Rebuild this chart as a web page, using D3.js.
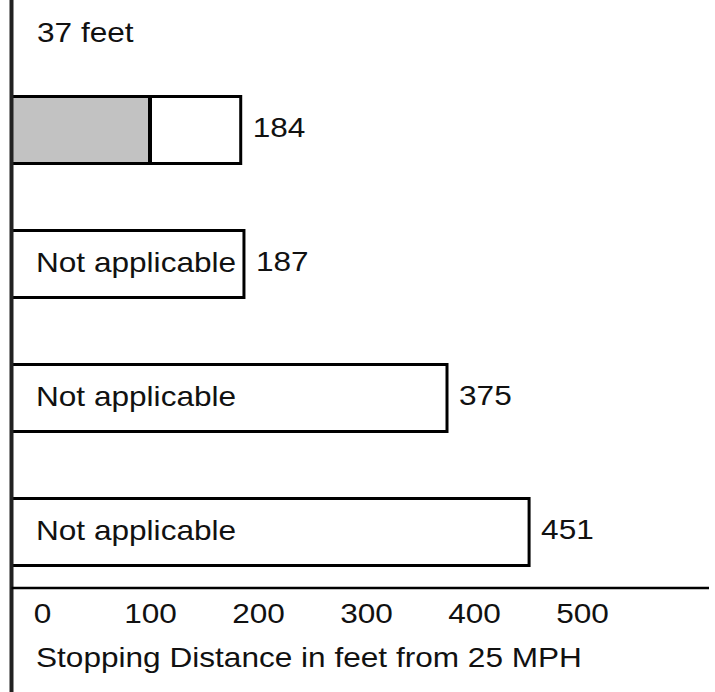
<!DOCTYPE html>
<html>
<head>
<meta charset="utf-8">
<script src="https://cdn.jsdelivr.net/npm/d3@7"></script>
<style>
  body { margin: 0; background: #fff; }
  svg text { font-family: 'Liberation Sans', Arial, Helvetica, sans-serif; font-size: 27px; fill: #111; }
</style>
</head>
<body>
<div id="chart"></div>
<script>
// rows of the (cropped) stopping distance chart, top to bottom
var rows = ['row1', 'row2', 'row3', 'row4'];
var totals = [184, 187, 375, 451];
var shaded = [100, null, null, null];
var innerLabels = ['', 'Not applicable', 'Not applicable', 'Not applicable'];
var tickValues = [0, 100, 200, 300, 400, 500];
var topNote = '37 feet';
var axisTitle = 'Stopping Distance in feet from 25 MPH';

var W = 715, H = 692;
var axisX = 11.5, axisY = 588;
var stretch = 'scale(1.17,1)';

var data = rows.map(function(r, i) {
  return {row: r, total: totals[i], shade: shaded[i], label: innerLabels[i]};
});

var svg = d3.select('#chart')
  .append('svg')
  .attr('width', W)
  .attr('height', H);

var x = d3.scaleLinear().domain([0, 500]).range([42, 582]);
var y = d3.scaleBand().domain(rows).range([63, 599])
  .paddingInner(0.5).paddingOuter(0.25);

// bars
var bar = svg.append('g')
  .selectAll('.bar')
  .data(data)
  .enter()
  .append('g')
  .attr('class', 'bar');

bar.append('rect')
  .attr('x', axisX)
  .attr('y', function(d) {return y(d.row);})
  .attr('width', function(d) {return x(d.total) - axisX;})
  .attr('height', y.bandwidth())
  .attr('fill', '#fff')
  .attr('stroke', '#000')
  .attr('stroke-width', 3);

bar.filter(function(d) {return d.shade != null;})
  .append('rect')
  .attr('x', axisX + 1.5)
  .attr('y', function(d) {return y(d.row) + 1.5;})
  .attr('width', function(d) {return x(d.shade) - axisX - 1.5;})
  .attr('height', y.bandwidth() - 3)
  .attr('fill', '#c2c2c2');

bar.filter(function(d) {return d.shade != null;})
  .append('line')
  .attr('x1', function(d) {return x(d.shade);})
  .attr('x2', function(d) {return x(d.shade);})
  .attr('y1', function(d) {return y(d.row);})
  .attr('y2', function(d) {return y(d.row) + y.bandwidth();})
  .attr('stroke', '#000')
  .attr('stroke-width', 4);

bar.filter(function(d) {return d.label;})
  .append('text')
  .attr('transform', function(d) {
    return 'translate(36,' + (y(d.row) + y.bandwidth() / 2 + 8) + ') ' + stretch;
  })
  .text(function(d) {return d.label;});

bar.append('text')
  .attr('transform', function(d) {
    return 'translate(' + (x(d.total) + 12) + ',' + (y(d.row) + y.bandwidth() / 2 + 7) + ') ' + stretch;
  })
  .text(function(d) {return d.total;});

// note above the first bar
svg.append('text')
  .attr('transform', 'translate(37,42) ' + stretch)
  .text(topNote);

// axes lines
svg.append('line')
  .attr('x1', axisX).attr('x2', axisX)
  .attr('y1', 0).attr('y2', H)
  .attr('stroke', '#222')
  .attr('stroke-width', 4);

svg.append('line')
  .attr('x1', axisX).attr('x2', 709)
  .attr('y1', axisY).attr('y2', axisY)
  .attr('stroke', '#000')
  .attr('stroke-width', 2.5);

var xAxis = d3.axisBottom(x).tickValues(tickValues).tickSize(0).tickPadding(16);
var gx = svg.append('g')
  .attr('class', 'axis x-axis')
  .attr('transform', 'translate(0,' + axisY + ')')
  .call(xAxis);
gx.select('.domain').remove();
gx.selectAll('text')
  .attr('font-family', null)
  .attr('font-size', null)
  .attr('fill', '#111')
  .attr('transform', stretch);

svg.append('text')
  .attr('transform', 'translate(36,667) ' + stretch)
  .text(axisTitle);
</script>
</body>
</html>
